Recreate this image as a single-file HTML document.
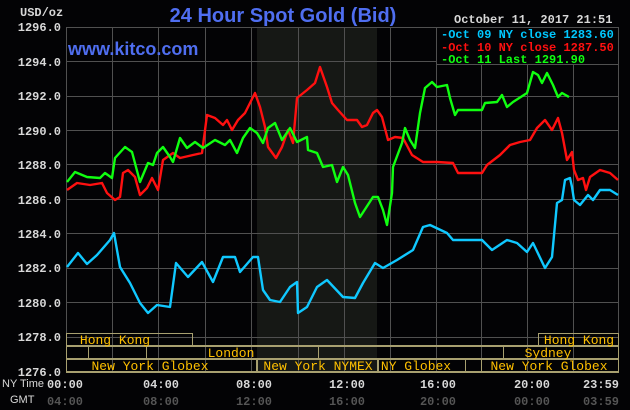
<!DOCTYPE html>
<html><head><meta charset="utf-8"><style>
body{margin:0;background:#030305;}
svg{display:block}
.m{font-family:"Liberation Mono",monospace;font-size:12px;font-weight:bold}
</style></head><body>
<svg width="630" height="410" viewBox="0 0 630 410" xmlns="http://www.w3.org/2000/svg">
<rect width="630" height="410" fill="#030305"/>
<rect x="257" y="27" width="120" height="345" fill="#161815"/>
<g stroke="#505050" stroke-width="1">
<line x1="66" y1="27.5" x2="618" y2="27.5"/><line x1="66" y1="61.5" x2="618" y2="61.5"/><line x1="66" y1="96.5" x2="618" y2="96.5"/><line x1="66" y1="130.5" x2="618" y2="130.5"/><line x1="66" y1="164.5" x2="618" y2="164.5"/><line x1="66" y1="199.5" x2="618" y2="199.5"/><line x1="66" y1="233.5" x2="618" y2="233.5"/><line x1="66" y1="268.5" x2="618" y2="268.5"/><line x1="66" y1="302.5" x2="618" y2="302.5"/><line x1="66" y1="337.5" x2="618" y2="337.5"/>
<line x1="66.5" y1="27" x2="66.5" y2="372"/><line x1="112.5" y1="27" x2="112.5" y2="372"/><line x1="158.5" y1="27" x2="158.5" y2="372"/><line x1="205.5" y1="27" x2="205.5" y2="372"/><line x1="251.5" y1="27" x2="251.5" y2="372"/><line x1="298.5" y1="27" x2="298.5" y2="372"/><line x1="344.5" y1="27" x2="344.5" y2="372"/><line x1="390.5" y1="27" x2="390.5" y2="372"/><line x1="436.5" y1="27" x2="436.5" y2="372"/><line x1="481.5" y1="27" x2="481.5" y2="372"/><line x1="527.5" y1="27" x2="527.5" y2="372"/><line x1="573.5" y1="27" x2="573.5" y2="372"/><line x1="618.5" y1="27" x2="618.5" y2="372"/>
</g>
<text x="283" y="22" text-anchor="middle" fill="#4f6ef0" font-family="Liberation Sans,sans-serif" font-size="20" font-weight="bold">24 Hour Spot Gold (Bid)</text>
<text x="68" y="55" fill="#4f6ef0" font-family="Liberation Sans,sans-serif" font-size="18" font-weight="bold">www.kitco.com</text>
<text x="20" y="16" class="m" fill="#d8d8d8" font-weight="normal">USD/oz</text>
<g class="m" fill="#d8d8d8" text-anchor="end">
<text x="61" y="31">1296.0</text><text x="61" y="66">1294.0</text><text x="61" y="100">1292.0</text><text x="61" y="135">1290.0</text><text x="61" y="169">1288.0</text><text x="61" y="204">1286.0</text><text x="61" y="238">1284.0</text><text x="61" y="272">1282.0</text><text x="61" y="307">1280.0</text><text x="61" y="341">1278.0</text><text x="61" y="376">1276.0</text>
</g>
<text x="454" y="23" class="m" fill="#d8d8d8" font-weight="normal">October 11, 2017 21:51</text>
<rect x="436.5" y="27.5" width="182" height="37" fill="#030305" stroke="#505050"/>
<g class="m">
<text x="441" y="38" fill="#00c8ff">-Oct 09 NY close 1283.60</text>
<text x="441" y="51" fill="#ff1010">-Oct 10 NY close 1287.50</text>
<text x="441" y="63" fill="#10ff10">-Oct 11 Last 1291.90</text>
</g>
<g fill="none" stroke-width="2.4" stroke-linejoin="round">
<polyline stroke="#10c8ff" points="67,267 78,253 87,264 97,255 110,240 114,233 120,267 130,283 140,303 148,313 157,305 170,307 176,263 188,277 202,262 213,282 223,257 235,257 240,272 253,257 258,257 263,290 270,300 280,302 290,287 297,282 298,313 307,307 317,287 327,280 343,297 355,298 363,283 375,263 383,268 397,260 413,250 423,227 430,225 447,233 453,240 482,240 492,250 507,240 517,243 527,252 533,243 545,268 552,257 557,203 562,200 565,180 570,178 572,187 574,200 580,205 588,195 593,200 600,190 610,190 618,195"/>
<polyline stroke="#ff1010" points="67,190 77,183 90,185 102,183 107,193 115,200 120,197 123,173 128,170 135,177 140,195 147,188 152,178 158,190 163,160 173,153 180,158 193,155 202,153 207,115 215,118 223,125 227,120 232,130 238,120 245,113 255,93 260,107 265,127 268,147 276,158 282,147 288,130 293,143 297,98 307,90 315,83 320,67 327,87 332,103 338,110 347,120 357,120 362,127 367,125 373,113 377,110 382,117 388,140 395,137 403,138 412,155 423,162 437,162 453,163 458,173 482,173 487,165 500,155 510,145 520,142 530,140 537,128 545,120 552,130 558,118 562,133 567,160 572,152 574,170 578,180 583,178 586,190 590,177 600,170 610,173 618,180"/>
<polyline stroke="#10ff10" points="67,182 75,172 87,177 100,178 105,173 112,178 115,158 125,147 132,152 140,182 148,163 153,165 157,153 163,147 170,157 173,162 180,138 187,148 195,142 203,148 215,140 225,145 230,140 237,153 243,138 250,128 257,133 263,143 268,128 275,123 282,140 290,128 297,142 307,137 308,150 317,153 323,167 332,165 337,182 343,167 348,175 355,203 360,217 373,197 378,197 383,210 387,225 392,193 393,167 402,143 405,128 410,140 415,148 420,113 425,88 432,82 437,87 447,85 450,98 455,115 458,110 482,110 485,103 497,102 502,95 507,107 513,102 527,93 533,72 538,75 542,83 547,73 553,85 558,97 562,93 569,97"/>
</g>
<g fill="none" stroke="#a8a070" stroke-width="1">
<rect x="66.5" y="333.5" width="126" height="12"/>
<rect x="538.5" y="333.5" width="80" height="12"/>
<rect x="66.5" y="346.5" width="22" height="12"/><rect x="88.5" y="346.5" width="58" height="12"/><rect x="146.5" y="346.5" width="172" height="12"/>
<rect x="503.5" y="346.5" width="115" height="12"/>
<rect x="66.5" y="359.5" width="190" height="12"/><rect x="257.5" y="359.5" width="120" height="12"/><rect x="378.5" y="359.5" width="87" height="12"/><rect x="481.5" y="359.5" width="137" height="12"/>
</g>
<g stroke="#a8a070" stroke-width="2"><line x1="66" y1="346" x2="619" y2="346"/><line x1="66" y1="359" x2="619" y2="359"/><line x1="66" y1="372" x2="619" y2="372"/></g>
<g font-family="Liberation Mono,monospace" font-size="13" fill="#ffc000" text-anchor="middle">
<text x="115" y="344">Hong Kong</text><text x="579" y="344">Hong Kong</text>
<text x="231" y="357">London</text><text x="548" y="357">Sydney</text>
<text x="150" y="370">New York Globex</text><text x="318" y="370">New York NYMEX</text><text x="416" y="370">NY Globex</text><text x="549" y="370">New York Globex</text>
</g>
<text x="2" y="387" font-family="Liberation Sans,sans-serif" font-size="11" fill="#d8d8d8">NY Time</text>
<text x="10" y="403" font-family="Liberation Sans,sans-serif" font-size="11" fill="#d8d8d8">GMT</text>
<g class="m" fill="#d8d8d8" text-anchor="middle">
<text x="65" y="388">00:00</text><text x="161" y="388">04:00</text><text x="254" y="388">08:00</text><text x="347" y="388">12:00</text><text x="438" y="388">16:00</text><text x="532" y="388">20:00</text><text x="601" y="388">23:59</text>
</g>
<g class="m" fill="#555" text-anchor="middle">
<text x="65" y="405">04:00</text><text x="161" y="405">08:00</text><text x="254" y="405">12:00</text><text x="347" y="405">16:00</text><text x="438" y="405">20:00</text><text x="532" y="405">00:00</text><text x="601" y="405">03:59</text>
</g>
</svg>
</body></html>
